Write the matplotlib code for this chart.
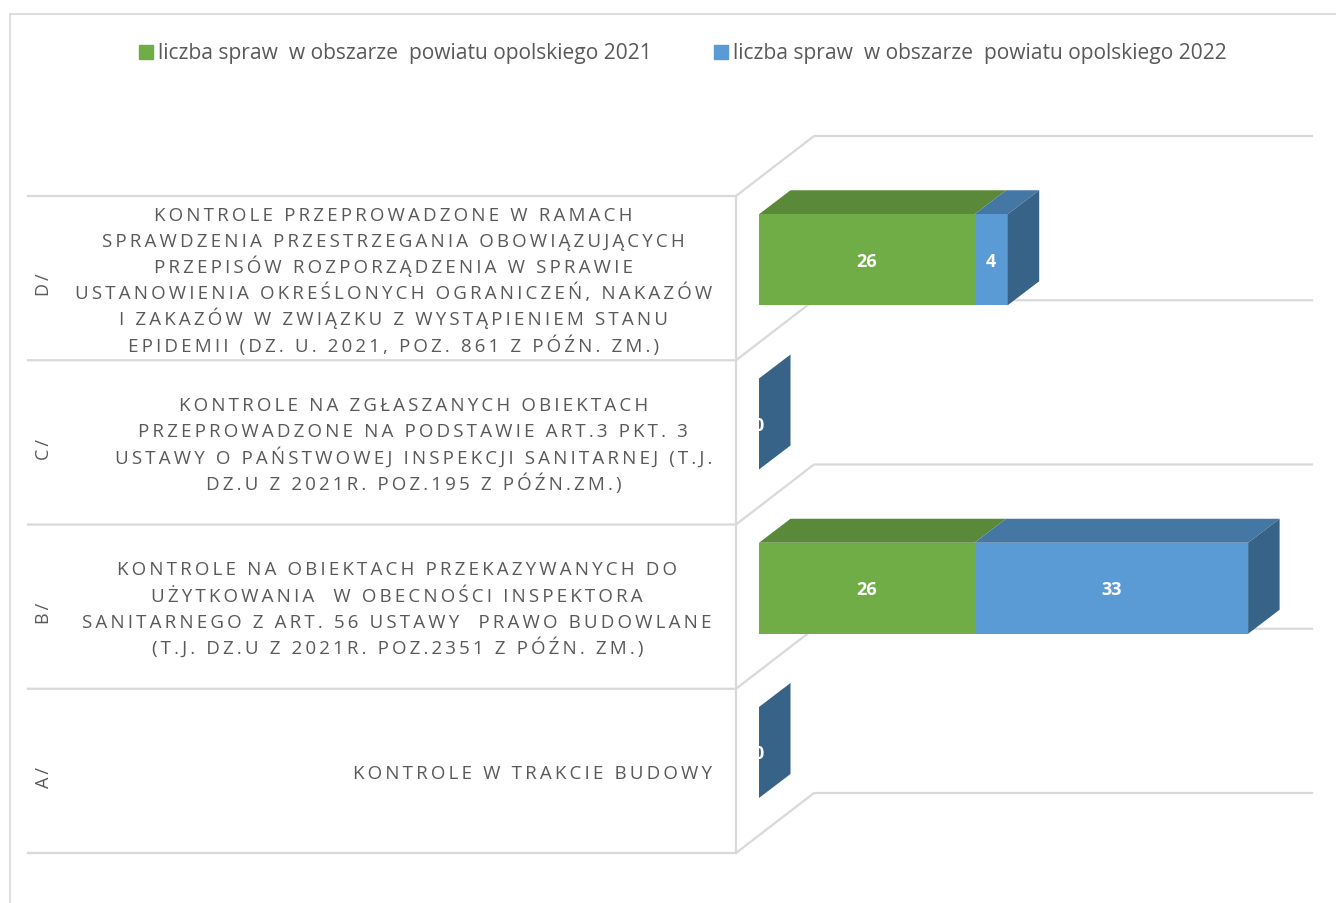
import matplotlib
matplotlib.use("Agg")
import matplotlib.pyplot as plt
from matplotlib.patches import Polygon, Rectangle

groups = ["A/", "B/", "C/", "D/"]
values_2021 = [0, 26, 0, 26]
values_2022 = [0, 33, 0, 4]
series_names = ["liczba spraw  w obszarze  powiatu opolskiego 2021",
                "liczba spraw  w obszarze  powiatu opolskiego 2022"]
descriptions = [
    ["KONTROLE W TRAKCIE BUDOWY"],
    ["KONTROLE NA OBIEKTACH PRZEKAZYWANYCH DO",
     "UŻYTKOWANIA  W OBECNOŚCI INSPEKTORA",
     "SANITARNEGO Z ART. 56 USTAWY  PRAWO BUDOWLANE",
     "(T.J. DZ.U Z 2021R. POZ.2351 Z PÓŹN. ZM.)"],
    ["KONTROLE NA ZGŁASZANYCH OBIEKTACH",
     "PRZEPROWADZONE NA PODSTAWIE ART.3 PKT. 3",
     "USTAWY O PAŃSTWOWEJ INSPEKCJI SANITARNEJ (T.J.",
     "DZ.U Z 2021R. POZ.195 Z PÓŹN.ZM.)"],
    ["KONTROLE PRZEPROWADZONE W RAMACH",
     "SPRAWDZENIA PRZESTRZEGANIA OBOWIĄZUJĄCYCH",
     "PRZEPISÓW ROZPORZĄDZENIA W SPRAWIE",
     "USTANOWIENIA OKREŚLONYCH OGRANICZEŃ, NAKAZÓW",
     "I ZAKAZÓW W ZWIĄZKU Z WYSTĄPIENIEM STANU",
     "EPIDEMII (DZ. U. 2021, POZ. 861 Z PÓŹN. ZM.)"],
]

GREEN, GREEN_TOP = "#70AD47", "#5A8A39"
BLUE, BLUE_TOP, BLUE_SIDE = "#5B9BD5", "#4577A5", "#376389"
GRID = "#D9D9D9"
TEXT = "#595959"
FONT = ["Open Sans", "DejaVu Sans"]


# the reference has wide letter spacing, thin spaces give about the same look
def spaced(s):
    return "\u2009".join(s)


fig = plt.figure(figsize=(13.36, 9.04), dpi=100)
ax = fig.add_axes([0, 0, 1, 1])
ax.set_xlim(0, 1336)
ax.set_ylim(904, 0)
ax.axis("off")
renderer = fig.canvas.get_renderer()

# chart border
ax.plot([10, 10, 1336], [904, 15, 15], color="#DEDEDE", lw=1.5)

# legend
ax.add_patch(Rectangle((139, 46), 14, 14, color=GREEN))
ax.text(158, 54, series_names[0], fontsize=15.1, color=TEXT, va="center", family=FONT)
ax.add_patch(Rectangle((714, 46), 14, 14, color=BLUE))
ax.text(733, 54, series_names[1], fontsize=15.1, color=TEXT, va="center", family=FONT)

# 3d frame
x0, x_wall = 736, 814
dy = 60
row_h = 164.25
bottom = 854
tops = [bottom - row_h * i for i in range(5)]
for y in tops:
    ax.plot([28, x0, x_wall, 1312], [y, y, y - dy, y - dy], color=GRID, lw=1.6, zorder=1)
ax.plot([x0, x0], [tops[0], tops[4]], color=GRID, lw=1.6, zorder=1)

# scale of the bars
bx = 759
per_unit = 8.29
ddx, ddy = 31.5, 24
bar_h = 91
line_h = 26.2
for i in range(4):
    top = tops[i] - 146
    v1, v2 = values_2021[i] * per_unit, values_2022[i] * per_unit
    x1, x2 = bx + v1, bx + v1 + v2
    if v1 > 0:
        ax.add_patch(Polygon([(bx, top), (x1, top), (x1 + ddx, top - ddy), (bx + ddx, top - ddy)],
                             color=GREEN_TOP, lw=0, zorder=3))
        ax.add_patch(Rectangle((bx, top), v1, bar_h, color=GREEN, lw=0, zorder=4))
    if v2 > 0:
        ax.add_patch(Polygon([(x1, top), (x2, top), (x2 + ddx, top - ddy), (x1 + ddx, top - ddy)],
                             color=BLUE_TOP, lw=0, zorder=3))
        ax.add_patch(Rectangle((x1, top), v2, bar_h, color=BLUE, lw=0, zorder=4))
    ax.add_patch(Polygon([(x2, top), (x2 + ddx, top - ddy), (x2 + ddx, top - ddy + bar_h), (x2, top + bar_h)],
                         color=BLUE_SIDE, lw=0, zorder=5))
    yc = top + bar_h / 2 + 1
    if v1 > 0:
        ax.text(bx + v1 / 2, yc, str(values_2021[i]), color="white", fontsize=13, fontweight="bold",
                ha="center", va="center", family=FONT, zorder=6)
    if v2 > 0:
        ax.text(x1 + v2 / 2, yc, str(values_2022[i]), color="white", fontsize=13, fontweight="bold",
                ha="center", va="center", family=FONT, zorder=6)
    if v1 == 0 and v2 == 0:
        # the zero label sits half behind the empty bar
        t = ax.text(bx, yc, "0", color="white", fontsize=13, fontweight="bold",
                    ha="center", va="center", family=FONT, zorder=6)
        t.set_clip_path(Rectangle((bx, 0), 100, 904, transform=ax.transData))

    # category labels
    yc_row = tops[i] - row_h / 2
    ax.text(44, yc_row + 6, spaced(groups[i]), rotation=90, fontsize=13, color=TEXT,
            ha="center", va="center", family=FONT)

    # one text per line keeps the line pitch even, the block ends at x=714
    lines = descriptions[i]
    texts = []
    for k, line in enumerate(lines):
        y = yc_row + 7 + (k - (len(lines) - 1) / 2) * line_h
        texts.append(ax.text(0, y, spaced(line), fontsize=13.5, color=TEXT,
                             ha="center", va="baseline", family=FONT))
    widest = max(t.get_window_extent(renderer).width for t in texts)
    for t in texts:
        t.set_x(712 - widest / 2)

fig.savefig("out.png", dpi=100)
